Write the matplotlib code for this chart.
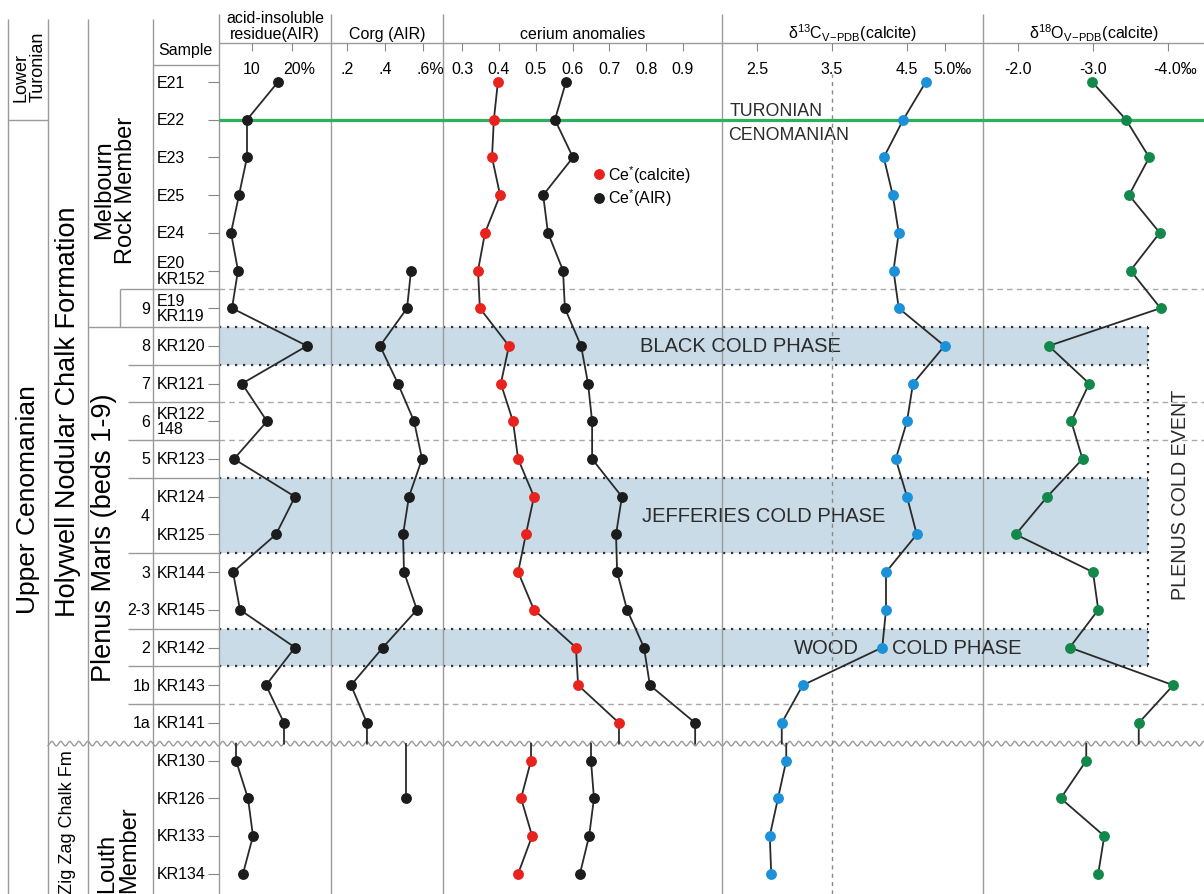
import numpy as np
import matplotlib.pyplot as plt
from matplotlib.lines import Line2D
from matplotlib.transforms import ScaledTranslation

plt.rcParams['font.family'] = ['Liberation Sans', 'DejaVu Sans']
plt.rcParams['mathtext.fontset'] = 'custom'
plt.rcParams['mathtext.rm'] = 'Liberation Sans'
plt.rcParams['mathtext.it'] = 'Liberation Sans:italic'
plt.rcParams['mathtext.bf'] = 'Liberation Sans:bold'

nan = np.nan

# samples, top of the section first
samples = ['E21', 'E22', 'E23', 'E25', 'E24', 'E20\nKR152', 'E19\nKR119', 'KR120',
           'KR121', 'KR122\n148', 'KR123', 'KR124', 'KR125', 'KR144', 'KR145',
           'KR142', 'KR143', 'KR141',
           'KR130', 'KR126', 'KR133', 'KR134']
n_upper = 18          # Melbourn Rock + Plenus Marls
n_lower = 4           # Louth Member, below the erosion surface

beds = ['9', '8', '7', '6', '5', '4', '3', '2-3', '2', '1b', '1a']
bed_rows = [6, 7, 8, 9, 10, 11.5, 13, 14, 15, 16, 17]

# acid-insoluble residue (%)
air_upper = [16.5, 8.75, 8.75, 6.75, 4.75, 6.5, 5.0, 23.75, 7.5, 13.75, 5.5,
             20.75, 16.0, 5.25, 7.0, 20.75, 13.5, 18.0]
air_lower = [6.0, 9.0, 10.25, 7.75]

# organic carbon in AIR (%)
corg_upper = [nan, nan, nan, nan, nan, 0.537, 0.516, 0.374, 0.468, 0.553, 0.595,
              0.526, 0.495, 0.50, 0.568, 0.389, 0.221, 0.305]
corg_lower = [nan, 0.51, nan, nan]

# cerium anomalies
ce_calcite_upper = [0.397, 0.386, 0.381, 0.403, 0.362, 0.343, 0.348, 0.427, 0.405,
                    0.438, 0.452, 0.495, 0.473, 0.452, 0.495, 0.609, 0.615, 0.726]
ce_calcite_lower = [0.487, 0.46, 0.49, 0.452]
ce_air_upper = [0.582, 0.552, 0.601, 0.52, 0.533, 0.574, 0.579, 0.623, 0.642,
                0.653, 0.653, 0.734, 0.718, 0.721, 0.748, 0.794, 0.81, 0.933]
ce_air_lower = [0.65, 0.658, 0.645, 0.62]

# stable isotopes of the calcite (permil V-PDB)
d13c_upper = [4.75, 4.45, 4.19, 4.31, 4.39, 4.32, 4.39, 5.0, 4.58, 4.50, 4.35,
              4.50, 4.63, 4.22, 4.22, 4.17, 3.11, 2.83]
d13c_lower = [2.89, 2.78, 2.67, 2.69]
d18o_upper = [-2.99, -3.44, -3.75, -3.48, -3.89, -3.50, -3.90, -2.41, -2.95, -2.71,
              -2.86, -2.39, -1.97, -3.0, -3.07, -2.69, -4.07, -3.61]
d18o_lower = [-2.91, -2.57, -3.15, -3.07]

# cold phases (sample rows they span) and boundaries
cold_phases = [(6.5, 7.5), (10.5, 12.5), (14.5, 15.5)]
stage_boundary = 1.0
bed_dashes = [5.5, 8.5, 9.5, 16.5]
unconformity = 17.55

# ---- layout (pixels) ----
W, H = 1204, 895
ROW0, ROWH = 83.0, 37.7
HEAD = 44


def prow(py):
    return (py - ROW0) / ROWH


GRAY = '#9a9a9a'
LINE = '#2a2a2a'
RED = '#e8231d'
BLACK = '#1c1c1c'
BLUE = '#1b91da'
GREEN = '#12894a'
BAND = '#c9dbe6'
BOUND = '#2fae5e'

fig = plt.figure(figsize=(W / 100, H / 100), dpi=100)

bg = fig.add_axes([0, 0, 1, 1], zorder=0)
bg.set_xlim(0, W)
bg.set_ylim(prow(H), prow(0))
bg.axis('off')

# cold phase bands
for top, bot in cold_phases:
    bg.fill_between([219, 1148], top, bot, color=BAND, lw=0)
    bg.hlines([top, bot], 219, 1148, colors='#333333', lw=1.6, linestyles=(0, (1, 2.6)))
bg.vlines(1148, cold_phases[0][0], cold_phases[-1][1], colors='#333333', lw=1.6,
          linestyles=(0, (1, 2.6)))

bg.hlines(bed_dashes, 219, W, colors='#a9a9a9', lw=1.0, linestyles=(0, (4, 3)))
bg.hlines(stage_boundary, 219, W, colors=BOUND, lw=2.3, zorder=3)

# column frame
bg.vlines([8, 48, 88, 153], prow(20), prow(H), colors=GRAY, lw=1.0)
bg.vlines([219, 331, 443, 722, 983], prow(15), prow(H), colors=GRAY, lw=1.0)
bg.hlines(prow(HEAD), 219, W, colors=GRAY, lw=1.0)
bg.hlines(prow(66), 153, 219, colors=GRAY, lw=1.0)
bg.hlines(stage_boundary, 8, 48, colors=GRAY, lw=1.0)
bg.hlines(6.5, 88, 219, colors=GRAY, lw=1.0)
bg.vlines(120, 5.5, 6.5, colors=GRAY, lw=1.0)
bg.hlines(5.5, 120, 219, colors=GRAY, lw=1.0)
bg.hlines([7.5, 8.5, 9.5, 10.5, 12.5, 14.5, 15.5, 16.5], 128, 219, colors=GRAY, lw=1.0)

# erosion surface between Plenus Marls and Zig Zag Chalk
wx = np.arange(48, W, 0.5)
bg.plot(wx, unconformity + 0.06 * np.sin(2 * np.pi * wx / 9), color=GRAY, lw=1.0)

# stratigraphy labels
bg.text(30, prow(102), 'Lower\nTuronian', rotation=90, ha='center', va='bottom',
        multialignment='left', fontsize=13, linespacing=1.0)
bg.text(28, prow(500), 'Upper Cenomanian', rotation=90, ha='center', va='center', fontsize=19)
bg.text(68, prow(412), 'Holywell Nodular Chalk Formation', rotation=90, ha='center',
        va='center', fontsize=19.5)
bg.text(68, prow(822), 'Zig Zag Chalk Fm', rotation=90, ha='center', va='center', fontsize=13)
bg.text(115, prow(190), 'Melbourn\nRock Member', rotation=90, ha='center', va='center',
        fontsize=17, linespacing=1.0)
bg.text(104, prow(538), 'Plenus Marls (beds 1-9)', rotation=90, ha='center', va='center',
        fontsize=19.5)
bg.text(118, prow(893), 'Louth\nMember', rotation=90, ha='center', va='bottom',
        multialignment='left', fontsize=17, linespacing=1.0)

bg.text(185, prow(51), 'Sample', ha='center', va='center', fontsize=11.5)
all_rows = np.arange(n_upper + n_lower)
for r, s in zip(all_rows, samples):
    bg.text(157, r, s, ha='left', va='center', fontsize=11.5, linespacing=1.0)
for r, b in zip(bed_rows, beds):
    bg.text(150, r, b, ha='right', va='center', fontsize=11.5)

# event labels
bg.text(730, prow(111), 'TURONIAN', ha='left', va='center', fontsize=12.8, color='#2b2b2b')
bg.text(728, prow(136), 'CENOMANIAN', ha='left', va='center', fontsize=12.8, color='#2b2b2b')
bg.text(740, 7, 'BLACK COLD PHASE', ha='center', va='center', fontsize=14.5, color='#2b2b2b')
bg.text(764, 11.5, 'JEFFERIES COLD PHASE', ha='center', va='center', fontsize=14.5,
        color='#2b2b2b')
bg.text(826, 15, 'WOOD', ha='center', va='center', fontsize=14.5, color='#2b2b2b')
bg.text(957, 15, 'COLD PHASE', ha='center', va='center', fontsize=14.5, color='#2b2b2b')
bg.text(1180, prow(495), 'PLENUS COLD EVENT', rotation=90, ha='center', va='center',
        fontsize=14.2, color='#2b2b2b')

rows_up = np.arange(n_upper, dtype=float)
rows_lo = np.arange(n_upper, n_upper + n_lower, dtype=float)


def make_panel(left, right, ref_val, ref_px, px_per_unit, ticks, labels, title):
    ax = fig.add_axes([left / W, 0, (right - left) / W, (H - HEAD) / H], zorder=1)
    ax.patch.set_alpha(0)
    ax.set_xlim(ref_val + (left - ref_px) / px_per_unit, ref_val + (right - ref_px) / px_per_unit)
    ax.set_ylim(prow(H), prow(HEAD))
    for sp in ax.spines.values():
        sp.set_visible(False)
    ax.xaxis.tick_top()
    ax.set_xticks(ticks)
    ax.set_xticklabels(labels)
    ax.tick_params(axis='x', direction='in', length=6, width=0.8, color='#888888',
                   pad=-23.4, labelsize=11.5)
    ax.set_yticks([])
    ax.set_title(title, fontsize=11.5, pad=3.6, linespacing=1.05)
    return ax


def shift_unit_label(ax):
    # keep the number centred on its tick, the unit sign hangs to the right
    last = ax.xaxis.get_major_ticks()[-1].label2
    last.set_transform(last.get_transform() + ScaledTranslation(0.075, 0, fig.dpi_scale_trans))


def draw_series(ax, upper, lower, color):
    up = np.asarray(upper, float)
    lo = np.asarray(lower, float)
    ku = ~np.isnan(up)
    kl = ~np.isnan(lo)
    ax.plot(np.r_[up[ku], up[ku][-1]], np.r_[rows_up[ku], unconformity],
            color=LINE, lw=1.3, zorder=2)
    ax.plot(np.r_[lo[kl][0], lo[kl]], np.r_[unconformity, rows_lo[kl]],
            color=LINE, lw=1.3, zorder=2)
    ax.plot(up[ku], rows_up[ku], 'o', ms=6.8, color=color, mec=color, zorder=3)
    ax.plot(lo[kl], rows_lo[kl], 'o', ms=6.8, color=color, mec=color, zorder=3)


ax_air = make_panel(219, 331, 10, 252, 4.0, [10, 20], ['10', '20%'],
                    'acid-insoluble\nresidue(AIR)')
ax_air.set_yticks(all_rows)
ax_air.tick_params(axis='y', direction='out', length=8, width=0.8, color='#888888',
                   labelleft=False)
draw_series(ax_air, air_upper, air_lower, BLACK)

ax_corg = make_panel(331, 443, 0.2, 347, 190.0, [0.2, 0.4, 0.6], ['.2', '.4', '.6%'],
                     'Corg (AIR)')
draw_series(ax_corg, corg_upper, corg_lower, BLACK)

ce_ticks = [0.3, 0.4, 0.5, 0.6, 0.7, 0.8, 0.9]
ax_ce = make_panel(443, 722, 0.4, 499, 368.0, ce_ticks, ['%.1f' % t for t in ce_ticks],
                   'cerium anomalies')
draw_series(ax_ce, ce_calcite_upper, ce_calcite_lower, RED)
draw_series(ax_ce, ce_air_upper, ce_air_lower, BLACK)
handles = [Line2D([], [], marker='o', ls='none', ms=6.8, color=RED),
           Line2D([], [], marker='o', ls='none', ms=6.8, color=BLACK)]
ax_ce.legend(handles, [r'Ce$^{*}$(calcite)', r'Ce$^{*}$(AIR)'], loc='upper left',
             bbox_to_anchor=(0.541, 0.859), borderaxespad=0, borderpad=0, frameon=False,
             handlelength=0.6, handletextpad=0.3, labelspacing=0.12, fontsize=11.5)

ax_c = make_panel(722, 983, 3.5, 832, 75.0, [2.5, 3.5, 4.5, 5.0],
                  ['2.5', '3.5', '4.5', '5.0‰'],
                  r'δ$^{13}$C$_{\mathregular{V\!-\!PDB}}$(calcite)')
ax_c.axvline(3.5, ymin=0, ymax=1 - (75 - HEAD) / (H - HEAD), color='#8a8a8a', lw=1.0,
             ls=(0, (3, 3)), zorder=1)
draw_series(ax_c, d13c_upper, d13c_lower, BLUE)

ax_o = make_panel(983, W, -2.0, 1018, -75.0, [-2.0, -3.0, -4.0],
                  ['-2.0', '-3.0', '-4.0‰'],
                  r'δ$^{18}$O$_{\mathregular{V\!-\!PDB}}$(calcite)')
draw_series(ax_o, d18o_upper, d18o_lower, GREEN)

for ax in (ax_air, ax_corg, ax_c, ax_o):
    shift_unit_label(ax)

fig.savefig('out.png', dpi=100)
